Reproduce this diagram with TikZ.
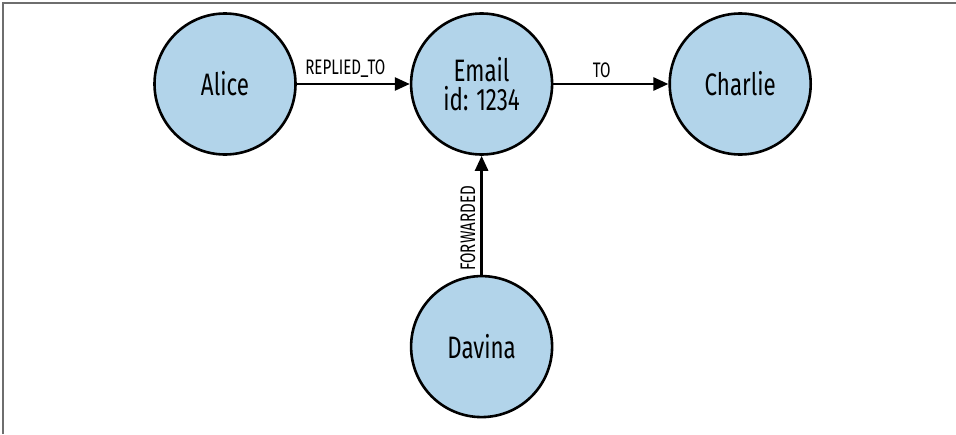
\documentclass[tikz,border=0pt]{standalone}
\usepackage{fontspec}
\setmainfont[FakeStretch=0.72]{Fira Sans}
\usepackage{tikz}
\usetikzlibrary{arrows.meta, automata, positioning}

\definecolor{nodeblue}{RGB}{178,212,234}
\definecolor{framegray}{RGB}{110,110,110}

\begin{document}
\begin{tikzpicture}[
            x = 1pt, y = -1pt, % pixel grid, y going down
            > = {Triangle[length=15pt, width=13pt]}, % arrow head style
            auto,
            node distance = 113pt, % distance between nodes
            line width = 2.6pt % line style
        ]

        \tikzstyle{every state}=[
            draw = black,
            fill = nodeblue,
            inner sep = 0pt,
            minimum size = 141pt,
            font = \fontsize{31}{30}\selectfont,
            align = center
        ]
        \tikzstyle{rel}=[
            font = \fontsize{21}{21}\selectfont,
            inner sep = 5pt
        ]

        \useasboundingbox (0,0) rectangle (956,434);
        \draw[framegray, line width = 1.5pt] (3,434) -- (3,3) -- (956,3);

        \node[state] (alice) at (225,84) {Alice};
        \node[state] (email) [right=of alice] {Email\\[-1pt]id: 1234};
        \node[state] (charlie) [right=115pt of email] {Charlie};
        \node[state] (davina) [below=119pt of email] {Davina};

        \path[->] (alice) edge node[rel, pos=0.43] {REPLIED\_TO} (email)
                  (email) edge node[rel, pos=0.42] {TO} (charlie)
                  (davina) edge node[rel, sloped, pos=0.39] {FORWARDED} (email);

  \end{tikzpicture}
\end{document}
